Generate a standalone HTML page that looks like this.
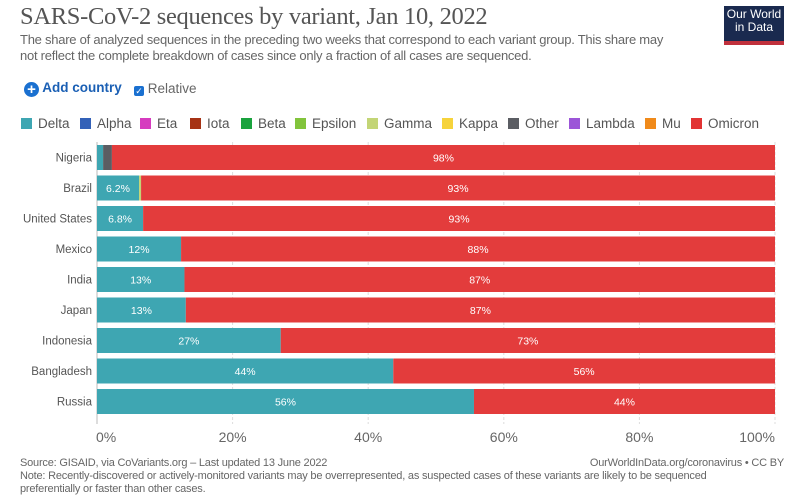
<!DOCTYPE html>
<html><head><meta charset="utf-8"><style>
body{margin:0;width:808px;height:498px;background:#fff;font-family:"Liberation Sans",sans-serif;overflow:hidden;position:relative}
.t{position:absolute;white-space:nowrap}
</style></head><body>
<div class="t" style="left:20px;top:3px;font-family:'Liberation Serif',serif;font-size:24.5px;color:#555;letter-spacing:-0.3px">SARS-CoV-2 sequences by variant, Jan 10, 2022</div>
<div class="t" style="left:20px;top:32px;font-size:13px;color:#666;line-height:16px;letter-spacing:-0.25px">The share of analyzed sequences in the preceding two weeks that correspond to each variant group. This share may<br>not reflect the complete breakdown of cases since only a fraction of all cases are sequenced.</div>
<div style="position:absolute;left:724px;top:6px;width:60px;height:33px;background:#1a2a4f;border-bottom:4px solid #c0303c;color:#fff;font-size:12px;line-height:13px;text-align:center;padding-top:2px;box-sizing:content-box">Our World<br>in Data</div>
<div class="t" style="left:24px;top:80px;font-size:13.5px;color:#1a5fb4;font-weight:bold"><span style="display:inline-block;width:15px;height:15px;border-radius:50%;background:#1a70d0;color:#fff;text-align:center;line-height:15px;font-size:15px;vertical-align:-2px">+</span> Add country</div>
<div class="t" style="left:134px;top:81px;font-size:13.5px;color:#666"><span style="display:inline-block;width:10px;height:10px;background:#1a70d0;border-radius:2px;vertical-align:-1px;color:#fff;font-size:9px;line-height:10px;text-align:center">✓</span> Relative</div>
<div id="legend"></div>
<svg id="c" width="808" height="498" style="position:absolute;left:0;top:0"></svg>
<div class="t" style="left:20px;top:457px;font-size:11px;color:#666;line-height:13px;letter-spacing:-0.2px">Source: GISAID, via CoVariants.org – Last updated 13 June 2022<br>Note: Recently-discovered or actively-monitored variants may be overrepresented, as suspected cases of these variants are likely to be sequenced<br>preferentially or faster than other cases.</div>
<div class="t" style="right:24px;top:457px;font-size:11px;color:#666;letter-spacing:-0.2px">OurWorldInData.org/coronavirus • CC BY</div>
<script>
const countries=["Nigeria","Brazil","United States","Mexico","India","Japan","Indonesia","Bangladesh","Russia"];
const delta=[0.9,6.2,6.8,12.4,12.9,13.1,27.1,43.7,55.6];
const gamma=[0,0.3,0,0,0,0,0,0,0];
const other=[1.3,0,0,0,0,0,0,0,0];
const omicron=[97.8,93.5,93.2,87.6,87.1,86.9,72.9,56.3,44.4];
const deltaLabels=["","6.2%","6.8%","12%","13%","13%","27%","44%","56%"];
const omicronLabels=["98%","93%","93%","88%","87%","87%","73%","56%","44%"];
const ticks=[0,20,40,60,80,100];
const legNames=["Delta","Alpha","Eta","Iota","Beta","Epsilon","Gamma","Kappa","Other","Lambda","Mu","Omicron"];
const legColors=["#3ea6b2","#3361b8","#d63bbf","#a63315","#1aa33e","#82c43c","#c3d576","#f6d33b","#5b5d63","#9c55d8","#f08a1a","#e23333"];
const svg=document.getElementById('c');const NS="http://www.w3.org/2000/svg";
const x0=97,x1=775;const X=v=>x0+(x1-x0)*v/100;const Y=i=>145+i*30.5;const BH=25;
function el(t,a){const e=document.createElementNS(NS,t);for(const k in a)e.setAttribute(k,a[k]);svg.appendChild(e);return e;}
ticks.forEach(t=>{const g=el('line',{x1:X(t),x2:X(t),y1:142,y2:424,stroke:'#ddd','stroke-dasharray':t==0?'':'3,2'});


const tx=el('text',{x:t==0?X(t)-1:t==100?X(t):X(t),y:442,'font-size':14,fill:'#666','text-anchor':t==0?'start':t==100?'end':'middle'});tx.textContent=t+'%';

});
el('line',{x1:x0,x2:x0,y1:142,y2:424,stroke:'#bbb'});
countries.forEach((c,i)=>{const y=Y(i);
const lb=el('text',{x:92,y:y+BH/2+4,'font-size':11.5,fill:'#555','text-anchor':'end'});lb.textContent=c;


let acc=0;
[[delta,"#3ea6b2"],[gamma,"#c3d576"],[other,"#5b5d63"],[omicron,"#e33c3c"]].forEach(([arr,col],k)=>{const v=arr[i];if(v<=0)return;
const r=el('rect',{x:X(acc),y:y,width:X(acc+v)-X(acc),height:BH,fill:col});


acc+=v;});
const dEnd=X(delta[i]);
if(deltaLabels[i]){const t=el('text',{x:(x0+dEnd)/2,y:y+BH/2+4,'font-size':10.5,fill:'#fff','text-anchor':'middle'});t.textContent=deltaLabels[i];

}
const ost=X(100-omicron[i]);
const t2=el('text',{x:(ost+x1)/2,y:y+BH/2+4,'font-size':10.5,fill:'#fff','text-anchor':'middle'});t2.textContent=omicronLabels[i];

});
const leg=document.getElementById('legend');
const lefts=[21,80,140,190,241,295,367,442,508,569,645,691];
legNames.forEach((n,i)=>{const d=document.createElement('div');d.className='t';


d.style.cssText=`left:${lefts[i]}px;top:116px;font-size:13.5px;color:#555`;
d.innerHTML=`<span style="display:inline-block;width:11px;height:11px;background:${legColors[i]};vertical-align:-1px;margin-right:6px"></span>${n}`;
leg.appendChild(d);});
</script>
</body></html>
